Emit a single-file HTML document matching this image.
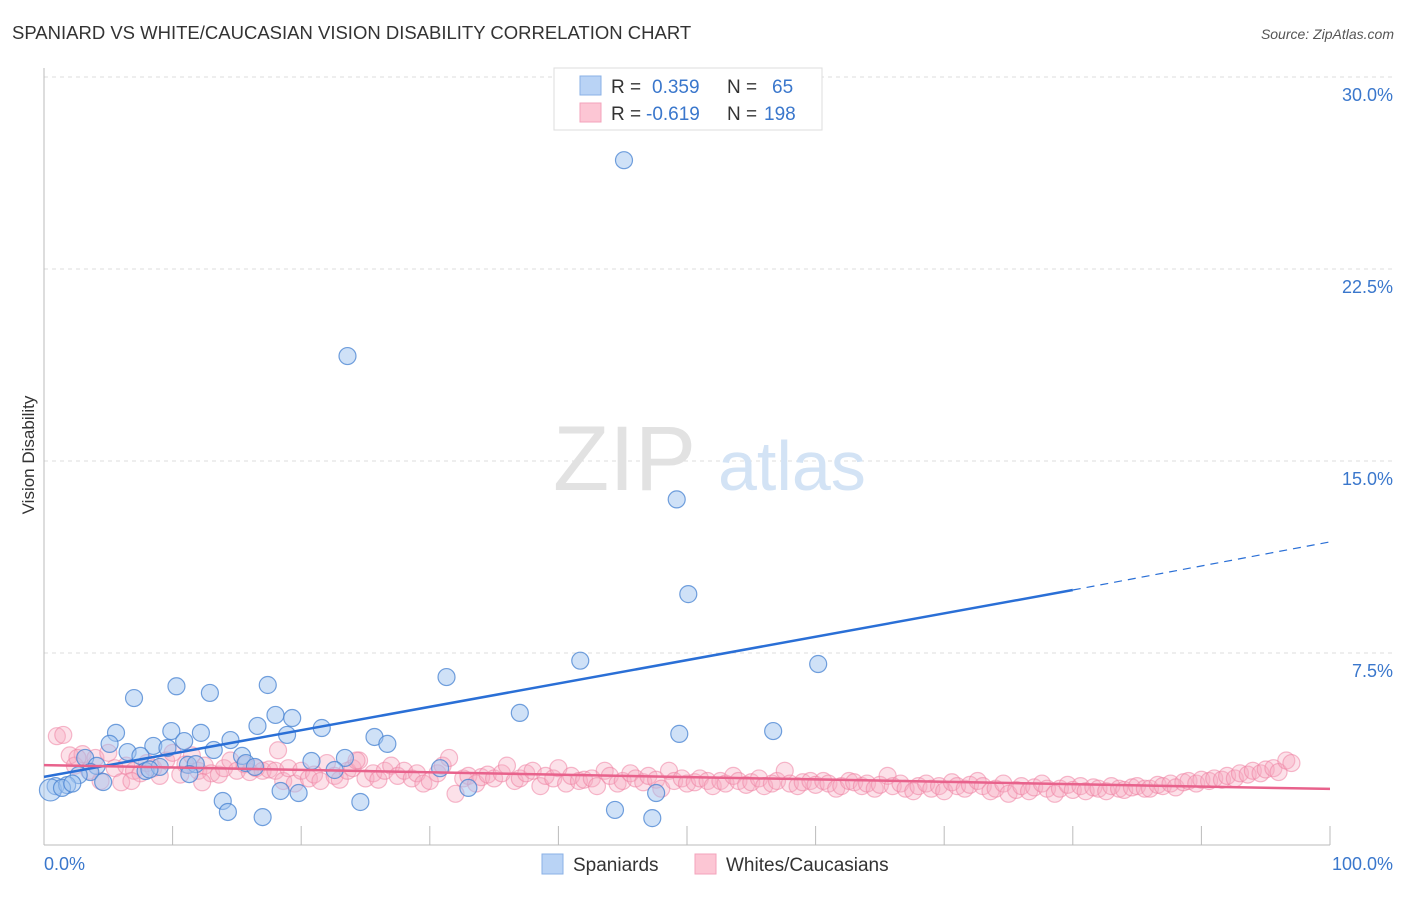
<!DOCTYPE html>
<html><head><meta charset="utf-8">
<style>
body{margin:0;background:#fff;font-family:"Liberation Sans",sans-serif;}
svg text{font-family:"Liberation Sans",sans-serif;}
</style></head>
<body>
<svg id="chart" width="1406" height="892" viewBox="0 0 1406 892" xmlns="http://www.w3.org/2000/svg">
<text x="12" y="39" font-size="18.5" fill="#333">SPANIARD VS WHITE/CAUCASIAN VISION DISABILITY CORRELATION CHART</text>
<text x="1394" y="39" font-size="14" fill="#555" font-style="italic" text-anchor="end">Source: ZipAtlas.com</text>
<g id="grid"></g>
<text x="553" y="490" font-size="92" fill="#e2e2e2" font-family="Liberation Serif">ZIP</text>
<text x="718" y="490" font-size="70" fill="#d3e3f5">atlas</text>
<text transform="translate(34,455) rotate(-90)" font-size="17" fill="#333" text-anchor="middle">Vision Disability</text>
<g id="pink"></g>
<g id="blue"></g>
<g id="lines"></g>
<g>
<rect x="554" y="68" width="268" height="62" fill="#fff" stroke="#ddd"/>
<rect x="580" y="76" width="21" height="19" fill="#b9d3f5" stroke="#8ab0e6"/>
<rect x="580" y="103" width="21" height="19" fill="#fcc6d4" stroke="#f3a3bb"/>
<text x="611" y="93" font-size="19" fill="#333">R =</text>
<text x="652" y="93" font-size="19" fill="#3a77cc">0.359</text>
<text x="727" y="93" font-size="19" fill="#333">N =</text>
<text x="772" y="93" font-size="19" fill="#3a77cc">65</text>
<text x="611" y="120" font-size="19" fill="#333">R =</text>
<text x="646" y="120" font-size="19" fill="#3a77cc">-0.619</text>
<text x="727" y="120" font-size="19" fill="#333">N =</text>
<text x="764" y="120" font-size="19" fill="#3a77cc">198</text>
</g>
<g>
<rect x="542" y="854" width="21" height="20" fill="#b9d3f5" stroke="#8ab0e6"/>
<text x="573" y="871" font-size="19" fill="#333">Spaniards</text>
<rect x="695" y="854" width="21" height="20" fill="#fcc6d4" stroke="#f3a3bb"/>
<text x="726" y="871" font-size="19" fill="#333">Whites/Caucasians</text>
</g>
</svg>
<script>
const yTicks=[7.5,15,22.5,30];
const yTickLabels=["7.5%","15.0%","22.5%","30.0%"];
const xTickLabels=["0.0%","100.0%"];
const blueX=[45.1,23.6,49.2,50.1,41.7,60.2,31.3,37.0,49.4,56.7,7.0,10.3,12.9,17.4,18.0,19.3,21.6,16.6,5.6,9.9,12.2,18.9,25.7,26.7,14.5,5.1,8.5,9.6,10.9,13.2,6.5,7.5,3.2,15.4,20.8,23.4,15.7,4.1,11.2,30.8,16.4,3.6,7.9,9.0,11.8,22.6,2.7,4.6,0.9,0.5,1.8,1.4,11.3,33.0,18.4,19.8,13.9,14.3,17.0,24.6,47.6,44.4,47.3,2.2,8.2];
const blueY=[26.75,19.1,13.5,9.8,7.2,7.07,6.56,5.16,4.34,4.45,5.74,6.2,5.94,6.25,5.08,4.96,4.57,4.65,4.38,4.45,4.38,4.3,4.22,3.95,4.1,3.95,3.87,3.79,4.06,3.71,3.63,3.48,3.4,3.48,3.28,3.4,3.2,3.09,3.13,3.0,3.05,2.85,2.89,3.05,3.16,2.93,2.73,2.46,2.3,2.15,2.34,2.23,2.77,2.23,2.11,2.03,1.72,1.29,1.09,1.68,2.03,1.37,1.05,2.4,2.95];
const pinkX=[1.0,1.5,2.0,2.4,3.0,3.5,4.0,4.4,5.0,5.5,6.0,6.4,7.0,7.5,8.0,8.5,9.0,9.5,10.0,10.6,11.0,11.5,12.0,12.5,13.0,13.6,14.0,14.5,15.0,15.6,16.0,16.5,17.0,17.5,18.0,18.6,19.0,19.5,20.0,20.6,21.0,21.5,22.0,22.6,23.0,23.6,24.0,24.5,25.0,25.6,26.0,26.5,27.0,27.5,28.0,28.6,29.0,29.5,30.0,30.6,31.0,31.5,32.0,32.6,33.0,33.6,34.0,34.5,35.0,35.6,36.0,36.6,37.0,37.5,38.0,38.6,39.0,39.6,40.0,40.6,41.0,41.6,42.0,42.6,43.0,43.6,44.0,44.6,45.0,45.6,46.0,46.6,47.0,47.6,48.0,48.6,49.0,49.6,50.0,50.6,51.0,51.6,52.0,52.6,53.0,53.6,54.0,54.6,55.0,55.6,56.0,56.6,57.0,57.6,58.0,58.6,59.0,59.6,60.0,60.6,61.0,61.6,62.0,62.6,63.0,63.6,64.0,64.6,65.0,65.6,66.0,66.6,67.0,67.6,68.0,68.6,69.0,69.6,70.0,70.6,71.0,71.6,72.0,72.6,73.0,73.6,74.0,74.6,75.0,75.6,76.0,76.6,77.0,77.6,78.0,78.6,79.0,79.6,80.0,80.6,81.0,81.6,82.0,82.6,83.0,83.6,84.0,84.6,85.0,85.6,86.0,86.6,87.0,87.6,88.0,88.6,89.0,89.6,90.0,90.6,91.0,91.6,92.0,92.6,93.0,93.6,94.0,94.6,95.0,95.6,96.0,96.6,97.0,2.6,6.8,12.3,18.2,24.3];
const pinkY=[4.25,4.3,3.5,3.1,3.55,2.9,3.4,2.5,3.6,3.0,
2.45,3.1,2.9,2.8,3.2,3.0,2.7,3.3,3.6,2.75,
3.15,3.5,2.9,3.1,2.8,2.75,3.0,3.3,2.9,3.15,
2.85,3.0,2.9,2.95,2.9,2.5,3.0,2.4,2.9,2.6,
2.75,2.5,3.2,2.7,2.55,2.9,3.0,3.3,2.6,2.8,
2.55,2.9,3.1,2.7,2.9,2.6,2.8,2.4,2.5,2.8,
3.1,3.4,2.0,2.6,2.7,2.4,2.65,2.75,2.6,2.8,
3.1,2.5,2.6,2.8,2.9,2.3,2.7,2.6,3.0,2.4,
2.7,2.5,2.55,2.6,2.3,2.9,2.7,2.4,2.5,2.8,
2.6,2.45,2.7,2.55,2.2,2.9,2.5,2.6,2.4,2.45,
2.6,2.5,2.3,2.5,2.4,2.7,2.5,2.35,2.45,2.6,
2.3,2.4,2.5,2.9,2.4,2.3,2.45,2.5,2.35,2.5,
2.4,2.2,2.3,2.5,2.45,2.3,2.4,2.2,2.35,2.7,
2.3,2.4,2.2,2.1,2.3,2.4,2.2,2.3,2.1,2.45,
2.3,2.2,2.35,2.5,2.3,2.1,2.2,2.4,2.0,2.15,
2.3,2.1,2.25,2.4,2.2,2.0,2.2,2.35,2.15,2.3,
2.1,2.25,2.2,2.1,2.3,2.2,2.15,2.25,2.3,2.2,
2.2,2.35,2.3,2.4,2.25,2.45,2.5,2.4,2.55,2.5,
2.6,2.55,2.7,2.6,2.8,2.75,2.9,2.8,2.95,3.0,2.85,3.3,3.2,
3.4,2.5,2.45,3.7,3.3];
const blueTrend=[[0,2.66],[80,9.96],[100,11.84]];
const pinkTrend=[[0,3.12],[100,2.19]];

const NS="http://www.w3.org/2000/svg";
const X0=44,X1=1330,Y0=845,PPU=25.6;
function sx(v){return X0+(X1-X0)*v/100;}
function sy(v){return Y0-v*PPU;}
function mk(tag,attrs,parent){const e=document.createElementNS(NS,tag);for(const k in attrs)e.setAttribute(k,attrs[k]);parent.appendChild(e);return e;}
const grid=document.getElementById('grid');
yTicks.forEach((t,i)=>{
  const l=mk('line',{x1:X0,x2:1394,y1:sy(t),y2:sy(t),stroke:'#ddd','stroke-dasharray':'4,4'},grid);
  
  
  const tx=mk('text',{x:1393,y:sy(t)+24,'font-size':18,fill:'#3a77cc','text-anchor':'end'},grid);
  tx.textContent=yTickLabels[i];
  
  
});
const ax=mk('line',{x1:X0,x2:X0,y1:68,y2:Y0,stroke:'#bbb'},grid);


const bx=mk('line',{x1:X0,x2:X1,y1:Y0,y2:Y0,stroke:'#bbb'},grid);


for(let k=1;k<=10;k++){
  const t=mk('line',{x1:sx(k*10),x2:sx(k*10),y1:826,y2:Y0,stroke:'#bbb'},grid);
  
  
}
const xl0=mk('text',{x:44,y:870,'font-size':18,fill:'#3a77cc'},grid);xl0.textContent=xTickLabels[0];


const xl1=mk('text',{x:1393,y:870,'font-size':18,fill:'#3a77cc','text-anchor':'end'},grid);xl1.textContent=xTickLabels[1];



const pg=document.getElementById('pink');
const nP=Math.min(pinkX.length,pinkY.length);
for(let i=0;i<nP;i++){
  const c=mk('circle',{cx:sx(pinkX[i]),cy:sy(pinkY[i]),r:8.5,fill:'rgba(246,170,192,0.35)',stroke:'rgba(238,130,162,0.55)','stroke-width':1.2},pg);
  
  
}
const bg=document.getElementById('blue');
const nB=Math.min(blueX.length,blueY.length);
for(let i=0;i<nB;i++){
  const c=mk('circle',{cx:sx(blueX[i]),cy:sy(blueY[i]),r:i==49?11:8.5,fill:'rgba(160,195,240,0.5)',stroke:'rgba(70,130,210,0.75)','stroke-width':1.2},bg);
  
  
}
const lg=document.getElementById('lines');
const b1=mk('line',{x1:sx(blueTrend[0][0]),y1:sy(blueTrend[0][1]),x2:sx(blueTrend[1][0]),y2:sy(blueTrend[1][1]),stroke:'#2a6fd6','stroke-width':2.5},lg);


const b2=mk('line',{x1:sx(blueTrend[1][0]),y1:sy(blueTrend[1][1]),x2:sx(blueTrend[2][0]),y2:sy(blueTrend[2][1]),stroke:'#2a6fd6','stroke-width':1.2,'stroke-dasharray':'8,6'},lg);


const p1=mk('line',{x1:sx(pinkTrend[0][0]),y1:sy(pinkTrend[0][1]),x2:sx(pinkTrend[1][0]),y2:sy(pinkTrend[1][1]),stroke:'#e8628c','stroke-width':2.5},lg);


</script>
</body></html>
